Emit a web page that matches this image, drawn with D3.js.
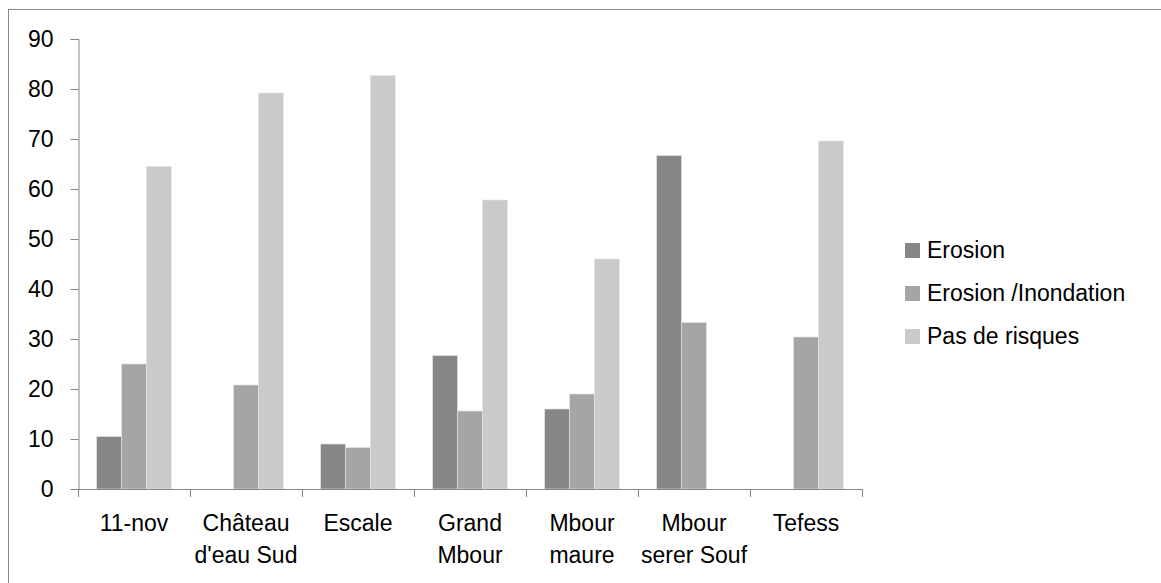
<!DOCTYPE html>
<html>
<head>
<meta charset="utf-8">
<script src="https://cdn.jsdelivr.net/npm/d3@7"></script>
<style>
  body { margin: 0; background: #fff; }
  text { font-family: "Liberation Sans", Arial, sans-serif; fill: #000; }
</style>
</head>
<body>
<div id="chart"></div>
<script>
// data
const categories = ["11-nov", "Château d'eau Sud", "Escale", "Grand Mbour", "Mbour maure", "Mbour serer Souf", "Tefess"];
const seriesNames = ["Erosion", "Erosion /Inondation", "Pas de risques"];
const erosion = [10.5, 0, 9, 26.7, 16, 66.7, 0];
const erosionInondation = [25, 20.8, 8.3, 15.6, 19, 33.3, 30.4];
const pasDeRisques = [64.5, 79.2, 82.7, 57.8, 46, 0, 69.6];
const yTicks = [0, 10, 20, 30, 40, 50, 60, 70, 80, 90];

const colors = ["#878787", "#a5a5a5", "#cacaca"];
const seriesValues = [erosion, erosionInondation, pasDeRisques];

var chart_width = 1161;
var chart_height = 583;
var font_size = '23px';

let svg = d3.select('#chart')
    .append('svg')
    .attr('width', chart_width)
    .attr('height', chart_height)

// outer frame (right / bottom edges are cut off in the picture)
svg.append('rect')
    .attr('x', 8.5).attr('y', 9.5)
    .attr('width', 1200).attr('height', 700)
    .attr('fill', 'none')
    .attr('stroke', '#868686')

const x = d3.scaleBand()
    .domain(categories)
    .range([78, 862])

const xs = d3.scaleBand()
    .domain(seriesNames)
    .range([0, x.bandwidth()])
    .paddingOuter(0.75)

const y = d3.scaleLinear()
    .domain([0, 90])
    .range([489, 39])

// y axis
const yAxis = svg.append('g')
    .attr('transform', 'translate(78.5,0)')
    .call(d3.axisLeft(y).tickValues(yTicks).tickSize(8).tickPadding(17))
yAxis.select('.domain').attr('stroke', '#868686')
yAxis.selectAll('.tick line').attr('stroke', '#868686')
yAxis.selectAll('.tick text')
    .style('font-size', font_size)
    .style('font-family', '"Liberation Sans", Arial, sans-serif')
    .attr('fill', '#000')

// bars
const rows = categories.map((c, i) => ({
    cat: c,
    vals: seriesNames.map((s, j) => ({ name: s, value: seriesValues[j][i], color: colors[j] }))
}))

const groups = svg.selectAll('g.cat')
    .data(rows)
    .enter()
    .append('g')
    .attr('class', 'cat')
    .attr('transform', d => 'translate(' + x(d.cat) + ',0)')

groups.selectAll('rect')
    .data(d => d.vals)
    .enter()
    .append('rect')
    .attr('x', d => xs(d.name))
    .attr('width', xs.bandwidth())
    .attr('y', d => y(d.value))
    .attr('height', d => y(0) - y(d.value))
    .attr('fill', d => d.color)
    .attr('stroke', d => d.value > 0 ? '#e4e4e4' : 'none')
    .attr('stroke-width', 0.6)

// x axis: line with ticks at the category boundaries
const boundaries = categories.map(c => x(c)).concat([x.range()[1]])
svg.append('line')
    .attr('x1', 78).attr('x2', 862.5)
    .attr('y1', y(0) + 0.5).attr('y2', y(0) + 0.5)
    .attr('stroke', '#868686')
svg.selectAll('line.xtick')
    .data(boundaries)
    .enter()
    .append('line')
    .attr('class', 'xtick')
    .attr('x1', d => Math.round(d) + 0.5).attr('x2', d => Math.round(d) + 0.5)
    .attr('y1', y(0)).attr('y2', y(0) + 8)
    .attr('stroke', '#868686')

// category labels, split after the first word
const labels = svg.selectAll('text.xlab')
    .data(categories)
    .enter()
    .append('text')
    .attr('class', 'xlab')
    .attr('text-anchor', 'middle')
    .style('font-size', font_size)
labels.each(function (c) {
    const k = c.indexOf(' ')
    const lines = k < 0 ? [c] : [c.slice(0, k), c.slice(k + 1)]
    lines.forEach((t, i) => {
        d3.select(this).append('tspan')
            .attr('x', x(c) + x.bandwidth() / 2)
            .attr('y', 531 + i * 32)
            .text(t)
    })
})

// legend
const legend = svg.selectAll('g.leg')
    .data(seriesNames)
    .enter()
    .append('g')
    .attr('class', 'leg')
    .attr('transform', (d, i) => 'translate(905,' + (250 + i * 43) + ')')
legend.append('rect')
    .attr('x', 0).attr('y', -7)
    .attr('width', 15).attr('height', 15)
    .attr('fill', (d, i) => colors[i])
legend.append('text')
    .attr('x', 22)
    .attr('y', 8)
    .style('font-size', font_size)
    .text(d => d)
</script>
</body>
</html>
